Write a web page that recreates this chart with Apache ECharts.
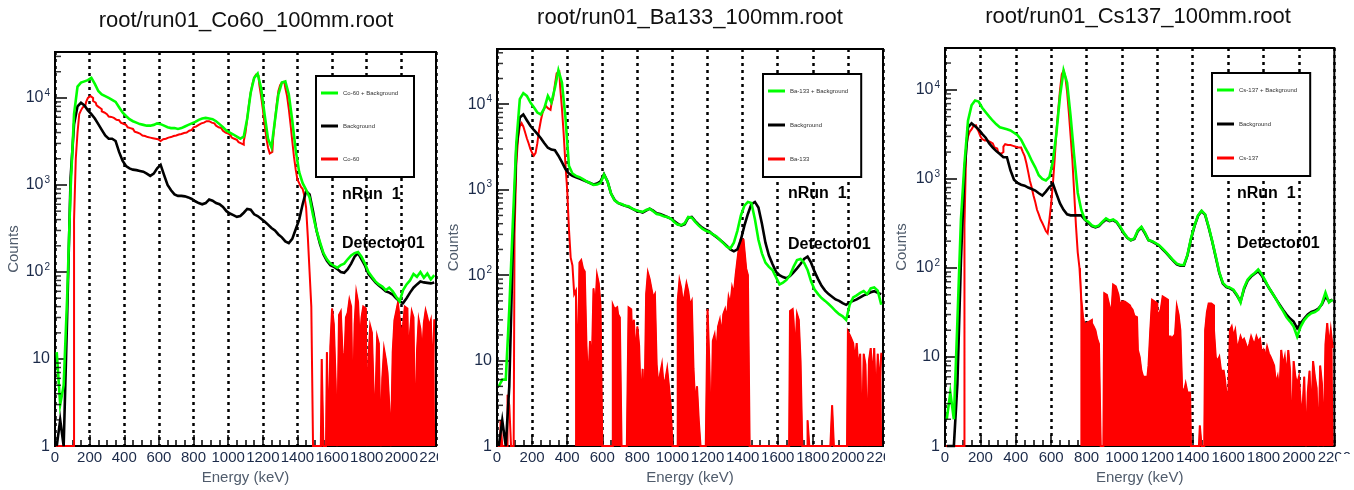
<!DOCTYPE html>
<html>
<head>
<meta charset="utf-8">
<title>Detector01 spectra</title>
<script src="https://cdn.jsdelivr.net/npm/echarts@6/dist/echarts.min.js"></script>
<style>
  html, body { margin: 0; padding: 0; background: #ffffff; }
  #chart { width: 1354px; height: 490px; }
</style>
</head>
<body>
<div id="chart"></div>
<script>
// Bin centres of the 20 keV histograms (total and background), keV
const energy = [
  10, 30, 50, 70, 90, 110, 130, 150, 170, 190,
  210, 230, 250, 270, 290, 310, 330, 350, 370, 390,
  410, 430, 450, 470, 490, 510, 530, 550, 570, 590,
  610, 630, 650, 670, 690, 710, 730, 750, 770, 790,
  810, 830, 850, 870, 890, 910, 930, 950, 970, 990,
  1010, 1030, 1050, 1070, 1090, 1110, 1130, 1150, 1170, 1190,
  1210, 1230, 1250, 1270, 1290, 1310, 1330, 1350, 1370, 1390,
  1410, 1430, 1450, 1470, 1490, 1510, 1530, 1550, 1570, 1590,
  1610, 1630, 1650, 1670, 1690, 1710, 1730, 1750, 1770, 1790,
  1810, 1830, 1850, 1870, 1890, 1910, 1930, 1950, 1970, 1990,
  2010, 2030, 2050, 2070, 2090, 2110, 2130, 2150, 2170, 2190
];
// Bin centres of the 10 keV source-only histograms, keV
const energyFine = [
  5, 15, 25, 35, 45, 55, 65, 75, 85, 95,
  105, 115, 125, 135, 145, 155, 165, 175, 185, 195,
  205, 215, 225, 235, 245, 255, 265, 275, 285, 295,
  305, 315, 325, 335, 345, 355, 365, 375, 385, 395,
  405, 415, 425, 435, 445, 455, 465, 475, 485, 495,
  505, 515, 525, 535, 545, 555, 565, 575, 585, 595,
  605, 615, 625, 635, 645, 655, 665, 675, 685, 695,
  705, 715, 725, 735, 745, 755, 765, 775, 785, 795,
  805, 815, 825, 835, 845, 855, 865, 875, 885, 895,
  905, 915, 925, 935, 945, 955, 965, 975, 985, 995,
  1005, 1015, 1025, 1035, 1045, 1055, 1065, 1075, 1085, 1095,
  1105, 1115, 1125, 1135, 1145, 1155, 1165, 1175, 1185, 1195,
  1205, 1215, 1225, 1235, 1245, 1255, 1265, 1275, 1285, 1295,
  1305, 1315, 1325, 1335, 1345, 1355, 1365, 1375, 1385, 1395,
  1405, 1415, 1425, 1435, 1445, 1455, 1465, 1475, 1485, 1495,
  1505, 1515, 1525, 1535, 1545, 1555, 1565, 1575, 1585, 1595,
  1605, 1615, 1625, 1635, 1645, 1655, 1665, 1675, 1685, 1695,
  1705, 1715, 1725, 1735, 1745, 1755, 1765, 1775, 1785, 1795,
  1805, 1815, 1825, 1835, 1845, 1855, 1865, 1875, 1885, 1895,
  1905, 1915, 1925, 1935, 1945, 1955, 1965, 1975, 1985, 1995,
  2005, 2015, 2025, 2035, 2045, 2055, 2065, 2075, 2085, 2095,
  2105, 2115, 2125, 2135, 2145, 2155, 2165, 2175, 2185, 2195
];

// ---- Co-60 run ----
const co60Total = [
  12, 3, 5, 50, 900, 6500, 13500, 15000, 15500, 16000,
  17000, 14500, 12000, 11000, 10500, 10000, 9500, 9000, 7800, 6800,
  6200, 5700, 5400, 5200, 5000, 4900, 4800, 4800, 4900, 5100,
  5000, 4800, 4600, 4500, 4500, 4400, 4500, 4700, 4900, 5100,
  5300, 5600, 5800, 5900, 5800, 5700, 5400, 5000, 4600, 4200,
  4000, 3800, 3600, 3400, 3600, 5800, 11500, 17000, 19000, 13000,
  6500, 3400, 2700, 5500, 11000, 15000, 15500, 11000, 5500, 2500,
  1400, 1050, 880, 720, 450, 300, 220, 165, 140, 125,
  118, 112, 120, 125, 140, 155, 165, 170, 150, 125,
  100, 88, 78, 72, 68, 62, 66, 60, 52, 46,
  62, 72, 80, 95, 88, 100, 86, 96, 82, 92
];
const co60Bkg = [
  1, 2, 1, 30, 1200, 5000, 8000, 8800, 8200, 7200,
  6500, 5800, 5000, 4300, 3700, 3400, 3400, 3200, 2400, 1900,
  1650, 1550, 1500, 1480, 1450, 1420, 1350, 1270, 1350, 1550,
  1700, 1300, 1000, 870, 780, 750, 750, 740, 720, 690,
  650, 620, 600, 620, 680, 660, 620, 600, 560, 500,
  470, 450, 430, 440, 480, 530, 520, 460, 440, 410,
  380, 350, 320, 300, 270, 250, 225, 215, 240, 310,
  400, 600, 850, 780, 500, 300, 210, 160, 135, 120,
  115, 108, 100, 98, 108, 125, 150, 165, 140, 118,
  95, 85, 76, 70, 65, 60, 58, 55, 50, 46,
  44, 50, 58, 66, 72, 78, 76, 75, 74, 76
];
const co60Src = [
  1, 1, 1, 1, 1, 1, 1, 1, 1, 1,
  1, 400, 2000, 4000, 6500, 7200, 7800, 8200, 9000, 10000,
  10500, 10000, 9200, 8800, 8200, 7800, 7400, 7000, 6800, 6500,
  6300, 6100, 6050, 5900, 5850, 5600, 5550, 5300, 5200, 5050,
  4900, 4800, 4600, 4500, 4400, 4300, 4100, 4000, 3900, 3800,
  3700, 3650, 3600, 3550, 3500, 3500, 3450, 3400, 3350, 3350,
  3200, 3300, 3350, 3400, 3450, 3500, 3550, 3600, 3650, 3700,
  3750, 3800, 3850, 3900, 3950, 4000, 4100, 4200, 4300, 4400,
  4600, 4700, 4900, 5000, 5100, 5200, 5300, 5400, 5400, 5300,
  5200, 5100, 4900, 4800, 4600, 4500, 4300, 4200, 4000, 3900,
  3800, 3700, 3500, 3400, 3300, 3200, 3100, 3000, 2900, 3200,
  4000, 5800, 8500, 11500, 14500, 17000, 18500, 18000, 14000, 10500,
  7500, 5000, 3500, 2700, 2300, 2400, 3500, 5500, 8500, 12000,
  14000, 15000, 15000, 13000, 10500, 7500, 5000, 3200, 2100, 1500,
  1150, 1050, 950, 900, 750, 550, 250, 100, 40, 1,
  1, 1, 1, 1, 10, 1, 1, 12, 1, 14,
  38, 25, 6, 1, 32, 35, 12, 8, 30, 34,
  48, 40, 2, 25, 58, 45, 15, 30, 40, 38,
  1, 10, 24, 20, 4, 3, 18, 15, 1, 6,
  13, 10, 7, 3, 1, 12, 28, 35, 44, 30,
  18, 25, 40, 38, 9, 20, 35, 30, 1, 12,
  28, 22, 11, 26, 36, 30, 24, 28, 6, 28
];

// ---- Ba-133 run ----
const ba133Total = [
  5, 6, 6, 40, 400, 3500, 11500, 13500, 12500, 10500,
  9200, 8000, 7600, 9000, 12500, 10500, 15500, 25000, 18000, 7000,
  1900, 1550, 1450, 1400, 1330, 1250, 1200, 1140, 1150, 1200,
  1500, 1250, 900, 750, 700, 680, 650, 640, 600, 580,
  560, 550, 580, 600, 560, 520, 510, 490, 480, 460,
  420, 390, 385, 405, 480, 470, 420, 380, 350, 330,
  320, 300, 285, 260, 237, 215, 205, 240, 330, 500,
  650, 720, 700, 450, 260, 180, 140, 125, 115, 95,
  78, 82, 88, 100, 125, 150, 155, 140, 115, 85,
  68, 60, 54, 50, 46, 42, 38, 35, 33, 30,
  45, 55, 58, 62, 65, 60, 70, 72, 66, 45
];
const ba133Bkg = [
  1, 2, 1, 5, 200, 3000, 7000, 7600, 6500, 5600,
  5000, 4500, 4000, 3500, 3100, 2950, 2900, 2500, 2100, 1750,
  1550, 1450, 1400, 1350, 1300, 1250, 1200, 1150, 1180, 1250,
  1520, 1250, 900, 760, 700, 670, 650, 630, 600, 570,
  560, 540, 570, 600, 570, 530, 520, 500, 480, 460,
  430, 400, 380, 395, 470, 480, 430, 390, 360, 340,
  325, 300, 280, 260, 240, 220, 200, 190, 200, 260,
  380, 520, 680, 720, 620, 400, 240, 170, 135, 110,
  100, 95, 92, 98, 108, 120, 135, 155, 165, 140,
  110, 90, 75, 66, 60, 56, 52, 50, 47, 45,
  48, 50, 52, 55, 58, 60, 63, 65, 62, 60
];
const ba133Src = [
  1, 1, 2, 1, 1, 1, 4, 3, 1, 1,
  300, 2000, 4000, 5500, 6000, 5500, 4700, 4000, 3500, 3000,
  2700, 2500, 2700, 3500, 5000, 6500, 8000, 9000, 9500, 9000,
  8600, 10000, 12000, 17000, 23000, 24000, 16000, 9000, 4500, 2000,
  1000, 350, 160, 130, 60, 66, 5, 140, 150, 120,
  110, 15, 5, 17, 8, 70, 40, 100, 80, 45,
  1, 1, 1, 1, 1, 1, 45, 40, 42, 35,
  32, 1, 1, 1, 1, 42, 40, 20, 30, 11,
  25, 15, 3, 8, 2, 60, 107, 90, 70, 55,
  60, 9, 5, 7, 9, 5, 6, 8, 5, 3,
  1, 1, 1, 50, 87, 70, 45, 60, 80, 65,
  45, 50, 8, 3, 5, 2, 1, 1, 1, 1,
  40, 10, 1, 17, 20, 12, 25, 30, 20, 35,
  40, 30, 55, 45, 72, 60, 100, 150, 220, 270,
  260, 200, 120, 100, 1, 1, 1, 1, 1, 1,
  1, 1, 1, 1, 1, 1, 1, 1, 1, 1,
  1, 1, 1, 1, 1, 1, 1, 38, 40, 30,
  12, 35, 30, 10, 1, 1, 1, 2, 1, 1,
  1, 1, 1, 1, 1, 1, 1, 1, 1, 1,
  1, 3, 1, 1, 1, 1, 1, 1, 1, 1,
  22, 20, 18, 16, 10, 16, 8, 12, 1, 12,
  9, 1, 10, 14, 6, 14, 3, 12, 5, 12
];

// ---- Cs-137 run ----
const cs137Total = [
  2, 4, 2, 25, 350, 1500, 4500, 6700, 7600, 7400,
  6300, 5600, 5000, 4500, 4100, 3800, 3700, 3600, 3500, 3300,
  3100, 2750, 2300, 1950, 1600, 1350, 1100, 1000, 960, 1050,
  1600, 3300, 8500, 16500, 12000, 5000, 1800, 700, 450, 350,
  330, 300, 290, 300, 330, 360, 340, 350, 330, 290,
  250, 220, 205, 215, 265, 290, 250, 205, 200, 190,
  180, 165, 150, 135, 122, 112, 108, 108, 140, 215,
  300, 390, 440, 400, 290, 200, 135, 90, 68, 62,
  60, 57, 50, 41, 60, 74, 82, 88, 96, 85,
  72, 60, 52, 45, 38, 33, 28, 25, 22, 17,
  22, 26, 29, 31, 32, 34, 40, 53, 41, 44
];
const cs137Bkg = [
  1, 1, 1, 5, 120, 1200, 3800, 4200, 3900, 3600,
  3200, 2900, 2500, 2250, 2050, 1900, 1750, 1750, 1250, 980,
  900, 860, 840, 800, 770, 740, 690, 650, 720, 810,
  880, 680, 530, 450, 400, 390, 390, 390, 390, 350,
  320, 295, 285, 295, 325, 350, 335, 345, 325, 285,
  245, 218, 205, 212, 260, 285, 245, 205, 198, 188,
  178, 162, 148, 133, 120, 110, 106, 106, 138, 210,
  295, 385, 435, 395, 285, 198, 132, 88, 67, 61,
  59, 56, 49, 42, 58, 72, 80, 86, 92, 82,
  70, 60, 52, 45, 39, 34, 30, 27, 25, 21,
  24, 27, 30, 32, 33, 35, 39, 48, 42, 44
];
const cs137Src = [
  1, 1, 1, 1, 1, 1, 1, 1, 1, 1,
  1, 300, 2300, 3000, 3400, 3600, 3900, 4000, 3700, 3400,
  3000, 2800, 2700, 2700, 2700, 2600, 2500, 2400, 2250, 2200,
  2000, 1900, 2000, 2300, 2450, 2400, 2400, 2350, 2350, 2300,
  2300, 2250, 2250, 2200, 2000, 1800, 1500, 1200, 950, 800,
  650, 550, 450, 400, 350, 320, 290, 260, 245, 350,
  530, 900, 1700, 3500, 6000, 10000, 15000, 16500, 14000, 9500,
  5500, 3000, 1600, 700, 300, 150, 100, 45, 28, 22,
  24, 25, 26, 24, 22, 20, 16, 14, 1, 1,
  52, 50, 45, 37, 30, 65, 62, 58, 50, 37,
  42, 42, 40, 42, 38, 36, 34, 29, 28, 12,
  10, 7, 6, 6, 5, 8, 20, 44, 42, 40,
  32, 30, 35, 48, 46, 44, 17, 17, 16, 17,
  18, 37, 30, 20, 4.5, 4, 5, 4, 4, 1,
  1, 1, 1, 1, 1.7, 1, 1, 20, 32, 40,
  40, 38, 20, 10, 9, 10, 7, 7, 6, 4,
  3, 20, 22, 17, 20, 13, 14, 17, 15, 16,
  14, 12, 14, 17, 15, 14, 17, 15, 16, 11,
  12, 10, 13, 11, 10, 9, 8, 5, 6, 4,
  12, 8, 10, 6, 12, 7, 1, 9, 6, 5,
  6, 3, 2.5, 6, 1, 4, 7, 2, 9, 6,
  4.5, 1, 8, 5, 1, 14, 24, 13, 20, 13
];

// Titles and legend entries of the three pads
const padTitles = ['root/run01_Co60_100mm.root', 'root/run01_Ba133_100mm.root', 'root/run01_Cs137_100mm.root'];
const legendNames = [
  ['Co-60 + Background', 'Background', 'Co-60'],
  ['Ba-133 + Background', 'Background', 'Ba-133'],
  ['Cs-137 + Background', 'Background', 'Cs-137']
];
const padData = [
  [co60Total, co60Bkg, co60Src],
  [ba133Total, ba133Bkg, ba133Src],
  [cs137Total, cs137Bkg, cs137Src]
];
// energy (keV) above which the source-only spectrum is just sparse counting noise
const noiseStart = [1495, 445, 765];
const energyMin = 0, energyMax = 2200, energyStep = 200;
const countsMin = 1;
const countsMax = [33700, 44300, 29500];
// log-axis minor tick values (2..9 of every decade)
const countsMinorTicks = [
  2, 3, 4, 5, 6, 7, 8, 9,
  20, 30, 40, 50, 60, 70, 80, 90,
  200, 300, 400, 500, 600, 700, 800, 900,
  2000, 3000, 4000, 5000, 6000, 7000, 8000, 9000,
  20000, 30000, 40000
];
const xAxisTitle = 'Energy (keV)';
const yAxisTitle = 'Counts';
const runLabel = 'nRun  1';
const detectorLabel = 'Detector01';

// Layout of each pad
const pads = [
  { grid: { left: 55, top: 52, width: 381, height: 395 }, titleX: 246, titleY: 21,
    legend: { left: 316, top: 76, gap: 25 }, textX: 342, runY: 195, detY: 244, countsGap: 34, energyGap: 21 },
  { grid: { left: 497, top: 49, width: 386, height: 401 }, titleX: 690, titleY: 18,
    legend: { left: 763, top: 74, gap: 26 }, textX: 788, runY: 194, detY: 245, countsGap: 36, energyGap: 22 },
  { grid: { left: 945, top: 48, width: 390, height: 404 }, titleX: 1138, titleY: 17,
    legend: { left: 1212, top: 73, gap: 26 }, textX: 1237, runY: 194, detY: 244, countsGap: 36, energyGap: 20 }
];

const FONT = '"Liberation Sans", Arial, Helvetica, sans-serif';
const LABEL_COLOR = '#1b2a49';
const NAME_COLOR = '#505c6c';
const colors = ['#00ff00', '#000000', '#ff0000'];

function logLabel(v) {
  const e = Math.log10(v);
  const r = Math.round(e);
  if (Math.abs(e - r) > 1e-6) return '';
  if (r === 0) return '1';
  if (r === 1) return '10';
  return '10{s|' + r + '}';
}

const grids = [], xAxes = [], yAxes = [], series = [], legends = [], graphics = [];

pads.forEach((p, k) => {
  grids.push(Object.assign({ show: true, borderColor: '#000', borderWidth: 2, backgroundColor: 'transparent' }, p.grid));

  xAxes.push({
    type: 'value', gridIndex: k, min: energyMin, max: energyMax, interval: energyStep,
    axisLine: { show: true, onZero: false, lineStyle: { color: '#000', width: 2 } },
    axisTick: { show: true, inside: true, length: 11, lineStyle: { color: '#000', width: 1.5 } },
    minorTick: { show: true, splitNumber: 4, length: 6, lineStyle: { color: '#000', width: 1.5 } },
    splitLine: { show: true, lineStyle: { color: '#000', width: 2.5, type: [3, 4] } },
    axisLabel: {
      color: LABEL_COLOR, fontSize: 15, fontFamily: FONT, margin: 4, hideOverlap: false,
      formatter: v => String(v)
    },
    name: xAxisTitle, nameLocation: 'middle', nameGap: p.energyGap,
    nameTextStyle: { color: NAME_COLOR, fontSize: 15, fontFamily: FONT }
  });

  yAxes.push({
    type: 'log', logBase: 10, gridIndex: k, min: countsMin, max: countsMax[k],
    axisLine: { show: true, onZero: false, lineStyle: { color: '#000', width: 2 } },
    axisTick: { show: true, inside: true, length: 12, lineStyle: { color: '#000', width: 1.5 } },
    minorTick: { show: false },
    splitLine: { show: false },
    axisLabel: {
      color: LABEL_COLOR, fontSize: 16, fontFamily: FONT, margin: 5,
      formatter: logLabel,
      rich: { s: { fontSize: 10, fontFamily: FONT, color: LABEL_COLOR, padding: [0, 0, 10, 1] } }
    },
    name: yAxisTitle, nameLocation: 'middle', nameGap: p.countsGap,
    nameTextStyle: { color: NAME_COLOR, fontSize: 15, fontFamily: FONT }
  });

  // minor ticks of the log axis: short marks inside the left frame edge
  series.push({
    type: 'scatter', name: 'log minor ticks', xAxisIndex: k, yAxisIndex: k, silent: true,
    symbol: 'rect', symbolSize: [6, 1.5], symbolOffset: [3, 0], clip: false,
    itemStyle: { color: '#000' }, animation: false, z: 5,
    data: countsMinorTicks.filter(v => v < countsMax[k]).map(v => [energyMin, v])
  });

  // the densely binned noise tail of the source spectrum reads as a filled band
  const src = padData[k][2];
  series.push({
    type: 'line', name: legendNames[k][2], xAxisIndex: k, yAxisIndex: k,
    data: energyFine.map((e, i) => [e, src[i]]).filter(d => d[0] >= noiseStart[k]),
    step: 'middle', symbol: 'none', showSymbol: false, clip: true,
    lineStyle: { color: colors[2], width: 1 },
    areaStyle: { color: colors[2], opacity: 1, origin: 'start' },
    itemStyle: { color: colors[2] }, emphasis: { disabled: true }, animation: false
  });

  // draw order: source spectrum, background, then total on top
  [2, 1, 0].forEach(j => {
    const values = padData[k][j];
    const xs = j === 2 ? energyFine : energy;
    series.push({
      type: 'line', name: legendNames[k][j], xAxisIndex: k, yAxisIndex: k,
      data: xs.map((e, i) => [e, values[i]]),
      step: j === 2 ? 'middle' : false,
      symbol: 'none', showSymbol: false, clip: true,
      lineStyle: { color: colors[j], width: j === 2 ? 2 : 2.6, join: 'miter' }, itemStyle: { color: colors[j] },
      emphasis: { disabled: true }, animation: false
    });
  });

  legends.push({
    data: legendNames[k], orient: 'vertical', left: p.legend.left, top: p.legend.top,
    itemGap: p.legend.gap, itemWidth: 17, itemHeight: 3, icon: 'rect',
    padding: [13, 13, 14, 5], borderColor: '#000', borderWidth: 2, backgroundColor: '#fff',
    selectedMode: false,
    textStyle: { fontSize: 6, lineHeight: 8, width: 58, color: '#333', fontFamily: FONT }
  });

  graphics.push(
    { type: 'text', x: p.titleX, y: p.titleY, style: { text: padTitles[k], fontSize: 22, fontFamily: FONT, fill: '#111', align: 'center', verticalAlign: 'middle' } },
    { type: 'text', x: p.textX, y: p.runY, z: 50, style: { text: runLabel, fontSize: 16, fontWeight: 'bold', fontFamily: FONT, fill: '#000', align: 'left', verticalAlign: 'middle' } },
    { type: 'text', x: p.textX, y: p.detY, z: 50, style: { text: detectorLabel, fontSize: 16, fontWeight: 'bold', fontFamily: FONT, fill: '#000', align: 'left', verticalAlign: 'middle' } }
  );
  // each pad is cut off just right of its frame
  const right = p.grid.left + p.grid.width + 2;
  graphics.push({ type: 'rect', z: 100, shape: { x: right, y: p.grid.top + p.grid.height + 2, width: 16, height: 24 }, style: { fill: '#fff' } });
});

const chart = echarts.init(document.getElementById('chart'), null, { renderer: 'canvas' });
chart.setOption({
  animation: false,
  backgroundColor: '#ffffff',
  grid: grids,
  xAxis: xAxes,
  yAxis: yAxes,
  legend: legends,
  series: series,
  graphic: graphics
});
</script>
</body>
</html>
